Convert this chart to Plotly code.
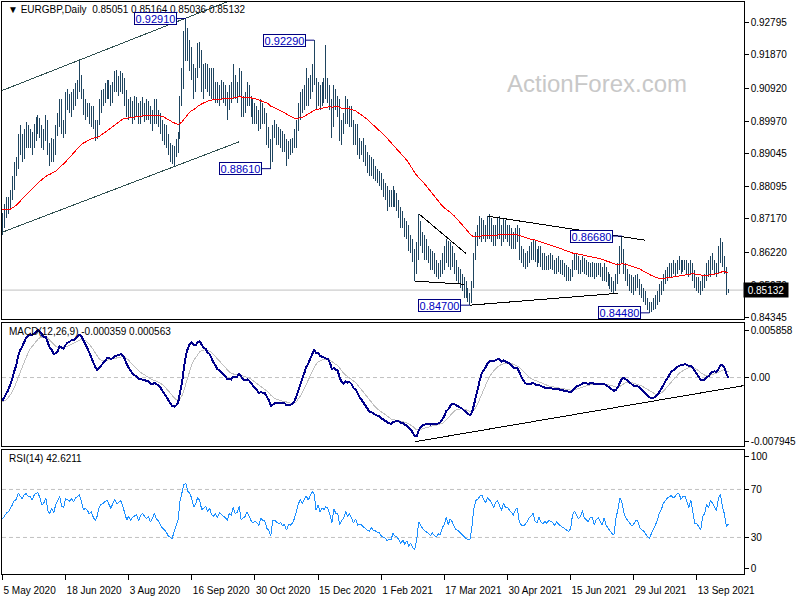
import numpy as np
import pandas as pd
import plotly.graph_objects as go

# ---------------- data ----------------
SYMBOL_TITLE = "\u25bc\u00a0EURGBP,Daily\u00a0\u00a00.85051 0.85164 0.85036 0.85132"
MACD_TITLE = "MACD(12,26,9) -0.000359 0.000563"
RSI_TITLE = "RSI(14) 42.6211"
WATERMARK = "ActionForex.com"

HIGH = [
    .8735, .8760, .8780, .8780, .8800, .8840, .8880, .8895, .8960, .8985,
    .8960, .8975, .8995, .8985, .8975, .8965, .8990, .9010, .9015, .9005,
    .8985, .8975, .9015, .9000, .8935, .8950, .8945, .8985, .9020, .9060,
    .9060, .9000, .9080, .9090, .9075, .9080, .9090, .9105, .9115, .9173,
    .9130, .9090, .9060, .9050, .9050, .9040, .9040, .9000, .9000, .9060,
    .9085, .9090, .9105, .9115, .9115, .9100, .9110, .9140, .9145, .9125,
    .9140, .9135, .9120, .9085, .9060, .9065, .9055, .9070, .9065, .9050,
    .9055, .9065, .9050, .9060, .9055, .9040, .9030, .9060, .9060, .9030,
    .9020, .9000, .8990, .8985, .8960, .8935, .8930, .8925, .8945, .8965,
    .9068, .9150, .9255, .9291, .9265, .9230, .9210, .9160, .9150, .9220,
    .9225, .9200, .9160, .9165, .9160, .9150, .9150, .9150, .9110, .9110,
    .9100, .9115, .9110, .9100, .9080, .9100, .9110, .9160, .9130, .9110,
    .9150, .9140, .9070, .9080, .9110, .9100, .9070, .9060, .9050, .9040,
    .9030, .9060, .9050, .9035, .9020, .8980, .8945, .8985, .9000, .8990,
    .8980, .8975, .8970, .8960, .8945, .8940, .8945, .8950, .8975, .9000,
    .9050, .9080, .9090, .9100, .9150, .9120, .9130, .9160, .9229, .9120,
    .9110, .9100, .9110, .9120, .9216, .9120, .9100, .9060, .9100, .9090,
    .9070, .9060, .9000, .9020, .9070, .9060, .9040, .9040, .9000, .8990,
    .8990, .8950, .8940, .8950, .8930, .8910, .8900, .8895, .8890, .8870,
    .8860, .8855, .8850, .8830, .8820, .8810, .8800, .8800, .8810, .8800,
    .8790, .8770, .8750, .8740, .8720, .8710, .8700, .8670, .8660, .8630,
    .8650, .8732, .8710, .8680, .8670, .8660, .8640, .8630, .8625, .8620,
    .8600, .8590, .8600, .8620, .8640, .8660, .8655, .8650, .8640, .8620,
    .8600, .8580, .8575, .8560, .8550, .8540, .8520, .8505, .8540, .8620,
    .8680, .8700, .8725, .8720, .8715, .8700, .8725, .8730, .8720, .8700,
    .8700, .8720, .8725, .8700, .8720, .8715, .8700, .8700, .8690, .8680,
    .8690, .8700, .8690, .8640, .8630, .8620, .8625, .8640, .8650, .8660,
    .8655, .8630, .8640, .8640, .8620, .8620, .8610, .8615, .8620, .8615,
    .8600, .8605, .8610, .8600, .8600, .8590, .8585, .8580, .8575, .8600,
    .8620, .8620, .8610, .8600, .8610, .8605, .8600, .8595, .8590, .8595,
    .8590, .8590, .8590, .8590, .8580, .8590, .8580, .8565, .8560, .8550,
    .8540, .8560, .8590, .8640, .8668, .8630, .8590, .8575, .8560, .8555,
    .8550, .8555, .8560, .8545, .8530, .8520, .8510, .8490, .8480, .8480,
    .8490, .8500, .8510, .8530, .8540, .8560, .8570, .8580, .8590, .8590,
    .8600, .8590, .8600, .8610, .8600, .8600, .8600, .8600, .8590, .8600,
    .8590, .8570, .8550, .8550, .8540, .8555, .8560, .8590, .8600, .8610,
    .8620, .8600, .8590, .8640, .8661, .8650, .8610, .8580, .85164,
]
LOW = [
    .8672, .8690, .8720, .8730, .8745, .8770, .8800, .8840, .8860, .8900,
    .8880, .8890, .8920, .8920, .8920, .8900, .8920, .8940, .8960, .8950,
    .8920, .8915, .8940, .8900, .8870, .8880, .8880, .8900, .8955, .8980,
    .8960, .8950, .8960, .9030, .9020, .9010, .9030, .9040, .9060, .9080,
    .9060, .9015, .9000, .9010, .8990, .8980, .8975, .8940, .8945, .8985,
    .9020, .9040, .9050, .9060, .9060, .9040, .9050, .9080, .9080, .9070,
    .9080, .9075, .9040, .9010, .9000, .9005, .8990, .9000, .9010, .8990,
    .8990, .9010, .8995, .9000, .9000, .8990, .8970, .8990, .8990, .8980,
    .8960, .8940, .8930, .8920, .8900, .8880, .8875, .8868, .8895, .8905,
    .8945, .9040, .9090, .9170, .9170, .9140, .9115, .9060, .9080, .9120,
    .9150, .9080, .9060, .9090, .9080, .9070, .9060, .9060, .9050, .9050,
    .9040, .9060, .9050, .9040, .9000, .9030, .9050, .9060, .9060, .9050,
    .9070, .9010, .9010, .9020, .9040, .9040, .9010, .8990, .8990, .8990,
    .8970, .8975, .8990, .8990, .8930, .8920, .8861, .8880, .8950, .8930,
    .8930, .8920, .8910, .8910, .8870, .8890, .8900, .8905, .8920, .8920,
    .8970, .9000, .9020, .9030, .9040, .9040, .9060, .9080, .9100, .9030,
    .9040, .9030, .9040, .9050, .9060, .9050, .9030, .8950, .8980, .9030,
    .9010, .8940, .8930, .8960, .8990, .8990, .8980, .8980, .8930, .8930,
    .8900, .8890, .8900, .8880, .8870, .8850, .8840, .8840, .8830, .8825,
    .8820, .8810, .8800, .8780, .8770, .8740, .8750, .8750, .8750, .8750,
    .8740, .8720, .8690, .8690, .8665, .8660, .8625, .8620, .8595, .8539,
    .8560, .8600, .8640, .8620, .8600, .8600, .8590, .8570, .8570, .8560,
    .8550, .8545, .8550, .8560, .8570, .8590, .8580, .8570, .8580, .8560,
    .8540, .8530, .8520, .8510, .8490, .8490, .8480, .8470, .8475, .8520,
    .8600, .8640, .8660, .8650, .8660, .8650, .8660, .8660, .8650, .8640,
    .8640, .8660, .8660, .8640, .8650, .8660, .8650, .8640, .8630, .8630,
    .8630, .8650, .8600, .8590, .8580, .8575, .8580, .8590, .8600, .8600,
    .8595, .8580, .8590, .8580, .8570, .8570, .8570, .8570, .8575, .8570,
    .8560, .8560, .8565, .8560, .8555, .8550, .8540, .8540, .8540, .8550,
    .8570, .8570, .8560, .8560, .8565, .8560, .8555, .8550, .8550, .8550,
    .8545, .8550, .8555, .8550, .8540, .8540, .8535, .8525, .8515, .8508,
    .8505, .8510, .8530, .8560, .8590, .8560, .8540, .8525, .8510, .8505,
    .8500, .8510, .8520, .8500, .8490, .8480, .8470, .8455, .8448, .8450,
    .8455, .8460, .8470, .8480, .8500, .8510, .8530, .8540, .8550, .8550,
    .8560, .8550, .8560, .8570, .8560, .8565, .8570, .8560, .8550, .8560,
    .8540, .8520, .8510, .8505, .8500, .8510, .8520, .8540, .8550, .8550,
    .8570, .8560, .8550, .8560, .8590, .8580, .8560, .8500, .85036,
]
CLOSE = [
    .8700, .8730, .8750, .8760, .8785, .8820, .8860, .8870, .8940, .8920,
    .8905, .8950, .8960, .8945, .8950, .8930, .8970, .8990, .8995, .8970,
    .8935, .8950, .8990, .8915, .8895, .8935, .8905, .8970, .9000, .9050,
    .8985, .8975, .9060, .9055, .9045, .9070, .9050, .9085, .9100, .9120,
    .9085, .9030, .9040, .9030, .9005, .9020, .8985, .8960, .8985, .9045,
    .9070, .9075, .9090, .9100, .9080, .9060, .9095, .9120, .9100, .9110,
    .9120, .9095, .9060, .9020, .9040, .9015, .9030, .9040, .9045, .9010,
    .9035, .9045, .9030, .9020, .9030, .9000, .9015, .9040, .9010, .9000,
    .8980, .8960, .8950, .8935, .8910, .8900, .8890, .8910, .8930, .8950,
    .9050, .9125, .9210, .9230, .9190, .9180, .9150, .9100, .9130, .9190,
    .9170, .9110, .9120, .9140, .9100, .9130, .9080, .9070, .9085, .9060,
    .9090, .9080, .9070, .9060, .9040, .9080, .9070, .9120, .9080, .9090,
    .9130, .9040, .9050, .9060, .9090, .9060, .9030, .9010, .9020, .9010,
    .8990, .9030, .9010, .9010, .8960, .8940, .8890, .8975, .8975, .8960,
    .8950, .8955, .8935, .8940, .8900, .8925, .8920, .8930, .8950, .8985,
    .9030, .9060, .9040, .9070, .9100, .9080, .9110, .9150, .9140, .9055,
    .9095, .9050, .9080, .9070, .9090, .9080, .9045, .8985, .9080, .9050,
    .9045, .8950, .8980, .9000, .9050, .9010, .9030, .8990, .8950, .8980,
    .8920, .8925, .8920, .8900, .8880, .8870, .8860, .8880, .8850, .8850,
    .8840, .8835, .8810, .8800, .8790, .8770, .8775, .8770, .8790, .8770,
    .8765, .8745, .8715, .8725, .8690, .8700, .8650, .8660, .8615, .8585,
    .8620, .8700, .8670, .8650, .8630, .8620, .8610, .8590, .8600, .8580,
    .8570, .8580, .8575, .8600, .8610, .8640, .8600, .8625, .8610, .8580,
    .8560, .8555, .8540, .8530, .8510, .8500, .8490, .8490, .8530, .8610,
    .8660, .8670, .8690, .8700, .8680, .8670, .8700, .8690, .8680, .8660,
    .8690, .8700, .8680, .8660, .8700, .8680, .8680, .8670, .8660, .8650,
    .8670, .8680, .8620, .8600, .8595, .8600, .8610, .8625, .8630, .8640,
    .8610, .8600, .8620, .8600, .8590, .8600, .8590, .8600, .8595, .8590,
    .8580, .8590, .8580, .8575, .8570, .8565, .8560, .8555, .8560, .8590,
    .8600, .8590, .8580, .8585, .8600, .8580, .8575, .8570, .8580, .8580,
    .8560, .8570, .8575, .8565, .8555, .8570, .8550, .8540, .8530, .8520,
    .8515, .8550, .8575, .8620, .8610, .8575, .8555, .8545, .8530, .8520,
    .8525, .8535, .8535, .8510, .8500, .8495, .8480, .8470, .8460, .8470,
    .8480, .8490, .8500, .8520, .8530, .8550, .8560, .8570, .8575, .8580,
    .8575, .8580, .8590, .8590, .8580, .8590, .8590, .8580, .8570, .8590,
    .8560, .8530, .8530, .8520, .8510, .8540, .8550, .8580, .8570, .8600,
    .8590, .8580, .8570, .8620, .8640, .8600, .8570, .8505, .85132,
]
LAST_OPEN = 0.85051

FIRST_DATE = "2020-05-05"
MARKET_HOLIDAYS = ["2020-12-25", "2021-01-01"]
TICK_EVERY = 32

PRICE_TICKS = [0.92795, 0.91870, 0.90920, 0.89970, 0.89045,
               0.88095, 0.87170, 0.86220, 0.85270, 0.84345]
MACD_TICKS = [0.005858, 0.0, -0.007945]
MACD_TICK_TEXT = ["0.005858", "0.00", "-0.007945"]
RSI_LEVELS = [70, 30]
# scale labels of the RSI pane: (text, level at which the label sits)
RSI_LABELS = [("100", 97.1), ("70", 70), ("30", 30), ("0", 4.1)]

# indicator starting states (values read at the left edge of the picture)
MA_START = 0.8745
EMA12_START = 0.8710
EMA26_START = 0.8740
SIGNAL_START = -0.0031
RSI_GAIN_START = 0.0019
RSI_LOSS_START = 0.0023

# marked extremes: (bar index, price)
MARKED = [(93, 0.92910), (158, 0.92290), (136, 0.88610),
          (237, 0.84700), (314, 0.86680), (328, 0.84480)]

# drawn trend lines: (bar0, price0, bar1, price1)
CHANNEL_LINES = [(-1, 0.9083, 114, 0.9339), (-1, 0.8677, 120, 0.8938)]
PATTERN_LINES = [(211, 0.8732, 235, 0.8618), (209, 0.8539, 234, 0.8530),
                 (246, 0.8725, 326, 0.8656), (237, 0.8470, 312, 0.8504)]
MACD_LINE = (209, -0.0080, 376, -0.0010)

# ---------------- derived series ----------------
n = min(len(HIGH), len(LOW), len(CLOSE))
high = np.array(HIGH[:n]); low = np.array(LOW[:n]); close = np.array(CLOSE[:n])
opn = np.concatenate(([close[0]], close[:-1]))
opn[-1] = LAST_OPEN
idx = np.arange(n)

dates = pd.bdate_range(FIRST_DATE, "2021-12-31")
dates = dates[~dates.isin(pd.to_datetime(MARKET_HOLIDAYS))][:n]
tick_idx = list(range(0, n, TICK_EVERY))
tick_txt = [f"{dates[i].day} {dates[i].strftime('%b %Y')}" for i in tick_idx]


def ema(values, period, seed):
    k = 2.0 / (period + 1)
    out, prev = [], seed
    for v in values:
        prev = prev + k * (v - prev)
        out.append(prev)
    return np.array(out)


def rsi(values, period, g0, l0):
    ag, al, prev, out = g0, l0, values[0], []
    for v in values:
        d = v - prev
        ag = (ag * (period - 1) + max(d, 0)) / period
        al = (al * (period - 1) + max(-d, 0)) / period
        out.append(100 - 100 / (1 + ag / al) if al > 0 else 100)
        prev = v
    return np.array(out)


ma55 = ema(close, 55, MA_START)
macd = ema(close, 12, EMA12_START) - ema(close, 26, EMA26_START)
signal = ema(macd, 9, SIGNAL_START)
rsi14 = rsi(close, 14, RSI_GAIN_START, RSI_LOSS_START)

# ---------------- figure ----------------
W, H = 800, 600
FONT = "Liberation Sans, Arial, sans-serif"
BAR_COLOR = "#1f4560"


def py(p):
    return 1 - p / H


X_RANGE = [-0.25, 375.75]
PRICE_RANGE = [0.84308, 0.93384]
MACD_RANGE = [-0.008526, 0.006810]
RSI_RANGE = [-0.6, 102.9]

fig = go.Figure()
fig.add_trace(go.Ohlc(x=idx, open=opn, high=high, low=low, close=close,
                      increasing=dict(line=dict(color=BAR_COLOR, width=1)),
                      decreasing=dict(line=dict(color=BAR_COLOR, width=1)),
                      tickwidth=0, hoverinfo="skip", xaxis="x", yaxis="y"))
fig.add_trace(go.Scatter(x=idx, y=ma55, mode="lines", line=dict(color="#ff0000", width=1),
                         xaxis="x", yaxis="y", hoverinfo="skip"))
for (a0, p0, a1, p1) in CHANNEL_LINES:
    fig.add_trace(go.Scatter(x=[a0, a1], y=[p0, p1], mode="lines",
                             line=dict(color="#2f4f4f", width=1), xaxis="x", yaxis="y"))
for (a0, p0, a1, p1) in PATTERN_LINES:
    fig.add_trace(go.Scatter(x=[a0, a1], y=[p0, p1], mode="lines",
                             line=dict(color="#000000", width=1), xaxis="x", yaxis="y"))

fig.add_trace(go.Scatter(x=idx, y=signal, mode="lines", line=dict(color="#c0c0c0", width=1),
                         xaxis="x2", yaxis="y2"))
fig.add_trace(go.Scatter(x=idx, y=macd, mode="lines", line=dict(color="#00008b", width=2),
                         xaxis="x2", yaxis="y2"))
fig.add_trace(go.Scatter(x=[MACD_LINE[0], MACD_LINE[2]], y=[MACD_LINE[1], MACD_LINE[3]],
                         mode="lines", line=dict(color="#000000", width=1), xaxis="x2", yaxis="y2"))

fig.add_trace(go.Scatter(x=idx, y=rsi14, mode="lines", line=dict(color="#1e90ff", width=1),
                         xaxis="x3", yaxis="y3"))

shapes = [
    dict(type="line", xref="x", yref="y", x0=X_RANGE[0], x1=X_RANGE[1],
         y0=close[-1], y1=close[-1], line=dict(color="#c0c0c0", width=1), layer="below"),
    dict(type="line", xref="x2", yref="y2", x0=X_RANGE[0], x1=X_RANGE[1], y0=0, y1=0,
         line=dict(color="#c0c0c0", width=1, dash="4px,3px"), layer="below"),
]
for lv in RSI_LEVELS:
    shapes.append(dict(type="line", xref="x3", yref="y3", x0=X_RANGE[0], x1=X_RANGE[1],
                       y0=lv, y1=lv, line=dict(color="#c0c0c0", width=1, dash="4px,3px"),
                       layer="below"))

ann = []
txt_font = dict(family=FONT, size=10, color="#000000")
ann.append(dict(text=SYMBOL_TITLE, x=6 / W, y=py(10), xref="paper", yref="paper",
                xanchor="left", yanchor="middle", showarrow=False, font=txt_font))
ann.append(dict(text=MACD_TITLE, x=7 / W, y=py(334), xref="paper", yref="paper",
                xanchor="left", yanchor="middle", showarrow=False, font=txt_font))
ann.append(dict(text=RSI_TITLE, x=7 / W, y=py(462), xref="paper", yref="paper",
                xanchor="left", yanchor="middle", showarrow=False, font=txt_font))
ann.append(dict(text=WATERMARK, x=605 / W, y=py(84), xref="paper", yref="paper",
                xanchor="center", yanchor="middle", showarrow=False,
                font=dict(family=FONT, size=24, color="#c8c8c8")))
for (b, p) in MARKED:
    ann.append(dict(text=f"{p:.5f}", x=b, y=p, xref="x", yref="y", ax=-30, ay=0,
                    showarrow=True, arrowhead=0, arrowwidth=1, arrowcolor="#000080",
                    bordercolor="#000080", borderwidth=1, borderpad=0, bgcolor="#ffffff",
                    width=41, height=11, font=dict(family=FONT, size=11, color="#0000c0")))
ann.append(dict(text=f"{close[-1]:.5f}", x=777 / W, y=close[-1], xref="paper", yref="y",
                xanchor="center", yanchor="middle", showarrow=False, bgcolor="#000000",
                width=42, height=12, font=dict(family=FONT, size=10, color="#ffffff")))

axis_common = dict(showline=True, mirror=True, linecolor="#000000", linewidth=1,
                   showgrid=False, zeroline=False)
tick_font = dict(family=FONT, size=10, color="#000000")
xdom = [2 / W, 754 / W]

fig.update_layout(
    width=W, height=H, margin=dict(l=0, r=0, t=0, b=0),
    paper_bgcolor="#ffffff", plot_bgcolor="#ffffff",
    showlegend=False, hovermode=False,
    shapes=shapes, annotations=ann,
    xaxis=dict(domain=xdom, range=X_RANGE, anchor="y", showticklabels=False, ticks="",
               rangeslider=dict(visible=False), **axis_common),
    xaxis2=dict(domain=xdom, range=X_RANGE, anchor="y2", matches="x", showticklabels=False,
                ticks="", **axis_common),
    xaxis3=dict(domain=xdom, range=X_RANGE, anchor="y3", matches="x", tickvals=tick_idx,
                ticktext=tick_txt, ticks="outside", ticklen=5, tickcolor="#000000",
                tickangle=0, ticklabelposition="outside right", ticklabelstandoff=7,
                tickfont=tick_font, **axis_common),
    yaxis=dict(domain=[py(321), py(2)], range=PRICE_RANGE, anchor="x", side="right",
               tickvals=PRICE_TICKS, ticktext=[f"{v:.5f}" for v in PRICE_TICKS],
               ticks="outside", ticklen=4, tickcolor="#000000", tickfont=tick_font,
               **axis_common),
    yaxis2=dict(domain=[py(449), py(325)], range=MACD_RANGE, anchor="x2", side="right",
                tickvals=MACD_TICKS, ticktext=MACD_TICK_TEXT, ticks="outside", ticklen=4,
                tickcolor="#000000", tickfont=tick_font, **axis_common),
    yaxis3=dict(domain=[py(578), py(453)], range=RSI_RANGE, anchor="x3", side="right",
                tickvals=[v for _, v in RSI_LABELS], ticktext=[t for t, _ in RSI_LABELS],
                ticks="outside", ticklen=4, tickcolor="#000000", tickfont=tick_font,
                **axis_common),
)

fig.write_html(
    "out.html",
    config={"displayModeBar": False, "staticPlot": True},
    post_script=(
        "document.body.style.margin='0px';"
        "document.body.style.padding='0px';"
        "document.documentElement.style.overflow='hidden';"
        "document.querySelectorAll('.ohlc path, path.js-line').forEach("
        "function(p){p.style.shapeRendering='crispEdges';});"
    ),
)
